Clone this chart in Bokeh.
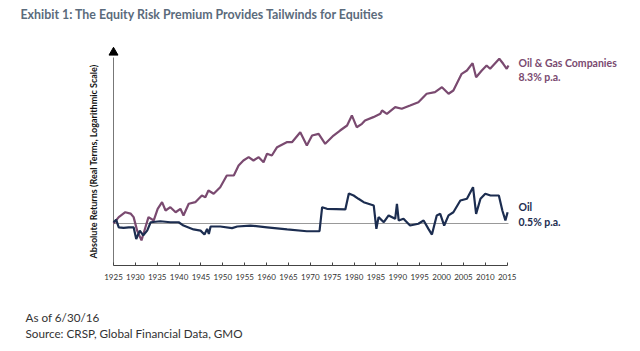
import numpy as np
from bokeh.plotting import figure
from bokeh.layouts import column
from bokeh.models import Range1d, Label, FixedTicker
from bokeh.embed import file_html
from bokeh.resources import INLINE

# ---------------- data (real wealth index, start = 1) ----------------
og_years = [1925.0, 1926.2, 1927.7, 1928.9, 1929.6, 1930.4, 1931.4, 1932.3, 1933.0, 1934.2,
            1935.1, 1936.1, 1936.9, 1938.0, 1939.2, 1940.3, 1941.0, 1942.2, 1943.7, 1945.2,
            1946.0, 1946.7, 1947.9, 1949.4, 1950.9, 1952.5, 1953.6, 1954.7, 1955.9, 1957.0,
            1958.2, 1959.3, 1960.1, 1961.2, 1962.4, 1964.6, 1965.8, 1967.7, 1969.2, 1970.4,
            1971.9, 1973.4, 1975.3, 1976.8, 1978.4, 1979.5, 1980.6, 1981.8, 1982.5, 1984.4,
            1986.0, 1986.4, 1987.5, 1989.4, 1990.9, 1992.8, 1994.7, 1996.6, 1998.5, 2000.1,
            2001.6, 2002.7, 2004.6, 2005.8, 2007.1, 2007.9, 2009.2, 2010.3, 2011.1, 2013.2,
            2014.1, 2014.9, 2015.3]
og_values = [1.0, 1.34, 1.68, 1.58, 1.34, 0.72, 0.46, 0.84, 1.34, 1.15,
             1.97, 2.67, 1.82, 2.12, 1.68, 1.97, 1.45, 2.48, 2.67, 3.63,
             3.36, 4.57, 3.93, 5.32, 9.12, 9.12, 14.5, 18.2, 21.2, 18.2,
             21.2, 16.8, 24.8, 22.9, 33.6, 42.3, 42.3, 67.0, 36.3, 57.5,
             62.2, 39.3, 57.5, 72.4, 91.2, 145.0, 84.3, 98.6, 115.0, 134.0,
             156.0, 182.0, 156.0, 212.0, 197.0, 229.0, 267.0, 393.0, 423.0, 532.0,
             393.0, 457.0, 986.0, 1148.0, 1607.0, 843.0, 1148.0, 1445.0, 1242.0, 1968.0,
             1563.0, 1242.0, 1445.0]

oil_years = [1925.0, 1925.6, 1926.2, 1927.3, 1928.5, 1929.6, 1930.2, 1931.0, 1931.8, 1932.7,
             1933.5, 1935.7, 1938.0, 1939.9, 1941.0, 1943.3, 1944.9, 1945.8, 1946.4, 1946.8,
             1947.2, 1949.4, 1952.1, 1953.3, 1956.3, 1960.1, 1964.7, 1969.2, 1972.1, 1972.7,
             1973.8, 1978.0, 1978.8, 1979.9, 1981.0, 1982.2, 1984.5, 1985.1, 1985.6, 1986.8,
             1987.9, 1989.4, 1989.8, 1990.2, 1991.3, 1992.8, 1994.7, 1995.9, 1997.0, 1997.8,
             1998.9, 1999.7, 2000.6, 2001.6, 2002.7, 2004.3, 2005.8, 2007.2, 2007.9, 2008.9,
             2010.0, 2011.2, 2013.1, 2013.9, 2014.6, 2015.1]
oil_values = [1.06, 1.19, 0.84, 0.82, 0.84, 0.84, 0.49, 0.72, 0.58, 0.72,
              1.06, 1.11, 1.06, 1.06, 0.91, 0.76, 0.72, 0.60, 0.78, 0.62,
              0.87, 0.87, 0.81, 0.87, 0.91, 0.84, 0.76, 0.70, 0.70, 2.12,
              1.97, 1.91, 3.98, 3.63, 3.12, 2.67, 2.29, 0.78, 1.34, 1.06,
              1.45, 1.24, 2.48, 1.15, 1.24, 0.91, 0.99, 1.15, 0.78, 0.60,
              1.45, 1.56, 0.91, 1.45, 1.68, 2.88, 3.12, 5.32, 1.56, 3.12,
              3.93, 3.63, 3.63, 1.82, 1.15, 1.68]

tick_years = list(range(1925, 2016, 5))

title_text = "Exhibit 1: The Equity Risk Premium Provides Tailwinds for Equities"
y_label_text = "Absolute Returns (Real Terms, Logarithmic Scale)"
og_label = ["Oil & Gas Companies", "8.3% p.a."]
oil_label = ["Oil", "0.5% p.a."]
notes = ["As of 6/30/16", "Source: CRSP, Global Financial Data, GMO"]

# ---------------- styling / layout ----------------
FONT = "Lato"
PURPLE = "#7a4a70"
NAVY = "#1c2d50"
TITLE_C = "#5b6b7c"

W = 640
H_MAIN, H_NOTES = 295, 56
bottom = 30
frame_bottom = H_MAIN - bottom       # canvas y of the x axis (265)
ppd = 50.0          # pixels per decade on the log axis
base_y = 223.0      # canvas y of index = 1
px_per_year = 4.374
axis_px = 113.0
axis_x = tick_years[0]
x_lo = axis_x - axis_px / px_per_year
x_hi = x_lo + W / px_per_year
def yv(cy):
    return 10 ** ((base_y - cy) / ppd)
y_lo = yv(frame_bottom)
y_hi = yv(0)
y_axis_top = yv(57)
y_arrow = yv(52)

p = figure(width=W, height=H_MAIN, x_range=Range1d(x_lo, x_hi), y_range=Range1d(y_lo, y_hi),
           y_axis_type="log", output_backend="svg", toolbar_location=None,
           min_border_left=0, min_border_right=0, min_border_top=0, min_border_bottom=bottom)
p.outline_line_color = None
p.xgrid.visible = False
p.ygrid.visible = False
p.background_fill_color = "white"
p.border_fill_color = "white"
p.yaxis.visible = False
p.title.visible = False

xa = p.xaxis[0]
xa.ticker = FixedTicker(ticks=tick_years)
xa.bounds = (tick_years[0], tick_years[-1])
xa.axis_line_color = "#444444"
xa.axis_line_width = 1
xa.major_tick_line_color = "#444444"
xa.major_tick_in = 3
xa.major_tick_out = 0
xa.minor_tick_line_color = None
xa.major_label_text_font = FONT
xa.major_label_text_font_size = "8px"
xa.major_label_text_color = "#333333"
xa.major_label_standoff = 8

# vertical axis with arrow
p.segment(x0=[axis_x], y0=[y_lo], x1=[axis_x], y1=[y_axis_top], line_color="#777777", line_width=1)
p.scatter(x=[axis_x], y=[y_arrow], marker="triangle", size=9, color="black")

# baseline at index = 1
p.segment(x0=[og_years[0]], y0=[1], x1=[og_years[-1]], y1=[1], line_color="#999999", line_width=1)

p.line(og_years, og_values, line_color=PURPLE, line_width=2.2)
p.line(oil_years, oil_values, line_color=NAVY, line_width=2.2)

def lab(fig, fb, text, cx, cy, size, color, bold=True, angle=0.0, align="left"):
    fig.add_layout(Label(x=cx, y=fb - cy, x_units="screen", y_units="screen",
                         text=text, text_font=FONT, text_font_size=size, text_color=color,
                         text_font_style="bold" if bold else "normal", angle=angle,
                         text_align=align, text_baseline="middle"))

lab(p, frame_bottom, title_text, 20, 14, "12.4px", TITLE_C)
lab(p, frame_bottom, y_label_text, 93, 161, "9px", "#111111", angle=np.pi / 2, align="center")
lab(p, frame_bottom, og_label[0], 518, 62, "10.5px", PURPLE)
lab(p, frame_bottom, og_label[1], 518, 76, "10.5px", PURPLE)
lab(p, frame_bottom, oil_label[0], 518, 206, "10.5px", NAVY)
lab(p, frame_bottom, oil_label[1], 518, 221, "10.5px", NAVY)

# ---------------- notes strip below the chart ----------------
q = figure(width=W, height=H_NOTES, x_range=Range1d(0, W), y_range=Range1d(0, H_NOTES),
           output_backend="svg", toolbar_location=None,
           min_border_left=0, min_border_right=0, min_border_top=0, min_border_bottom=0)
q.axis.visible = False
q.grid.visible = False
q.outline_line_color = None
q.title.visible = False
for t, cy in zip(notes, [316, 332]):
    lab(q, H_NOTES, t, 25, cy - H_MAIN, "11.7px", "#333333", bold=False)

layout = column(p, q, spacing=0)
open("out.html", "w").write(file_html(layout, INLINE))
